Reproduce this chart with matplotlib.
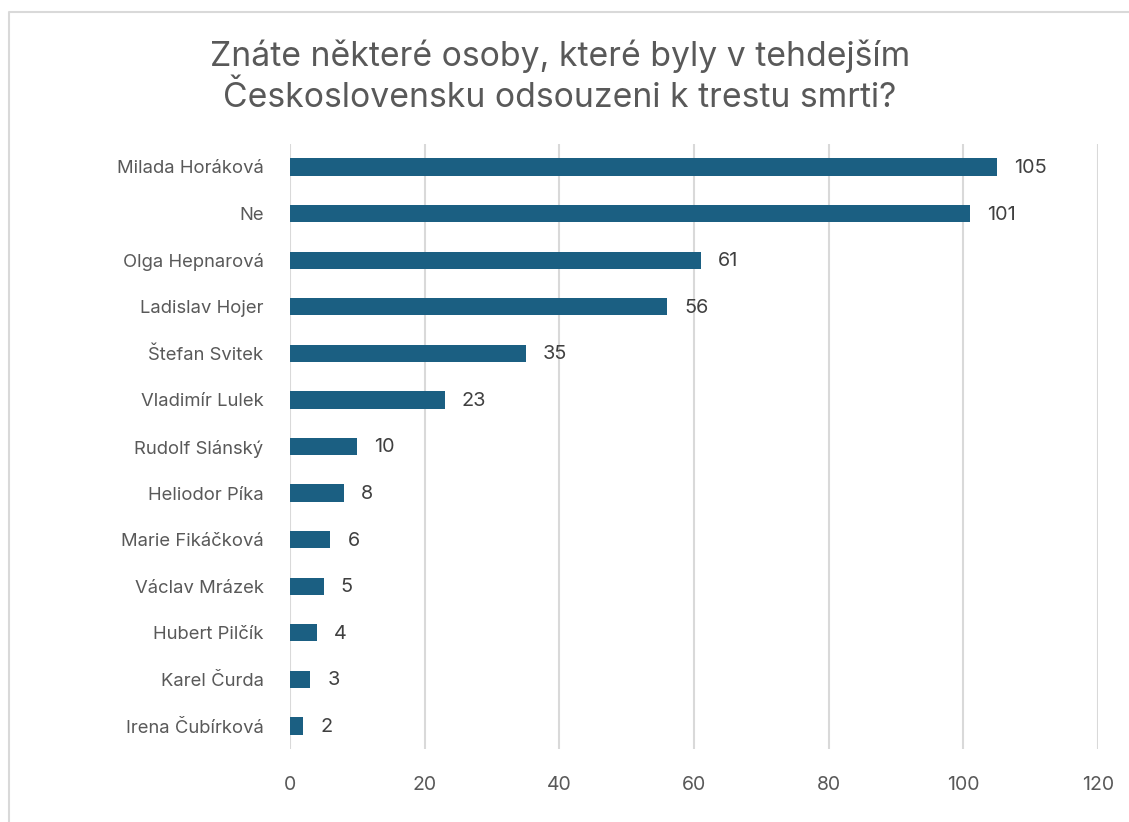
import matplotlib
matplotlib.use("Agg")
import matplotlib.pyplot as plt
from matplotlib.lines import Line2D

names = ["Milada Horáková", "Ne", "Olga Hepnarová", "Ladislav Hojer", "Štefan Svitek",
         "Vladimír Lulek", "Rudolf Slánský", "Heliodor Píka", "Marie Fikáčková",
         "Václav Mrázek", "Hubert Pilčík", "Karel Čurda", "Irena Čubírková"]
values = [105, 101, 61, 56, 35, 23, 10, 8, 6, 5, 4, 3, 2]
xticks = [0, 20, 40, 60, 80, 100, 120]
title = "Znáte některé osoby, které byly v tehdejším\nČeskoslovensku odsouzeni k trestu smrti?"

plt.rcParams['font.family'] = ['Inter', 'DejaVu Sans']

W, H = 1129, 822
fig = plt.figure(figsize=(W / 100, H / 100), dpi=100)
ax = fig.add_axes([290 / W, 1 - 749.3 / H, (1098 - 290) / W, (749.3 - 143.7) / H])

ypos = list(range(len(names)))
ax.barh(ypos, values, height=0.37, color='#1B5F82', zorder=3)
ax.set_ylim(len(names) - 0.5, -0.5)
ax.set_xlim(0, 120)
ax.set_xticks(xticks)
ax.set_xticklabels([str(t) for t in xticks])
ax.set_yticks(ypos)
ax.set_yticklabels(names)
ax.tick_params(axis='both', length=0, colors='#595959')
ax.tick_params(axis='y', pad=19, labelsize=13.3)
ax.tick_params(axis='x', pad=19, labelsize=14)
for s in ['top', 'right', 'bottom', 'left']:
    ax.spines[s].set_visible(False)
ax.grid(axis='x', color='#D9D9D9', linewidth=1.5, zorder=0)
ax.set_axisbelow(True)

for y, v in zip(ypos, values):
    ax.annotate(str(v), (v, y), xytext=(17, -1), textcoords='offset pixels',
                va='center', ha='left', fontsize=14.3, color='#404040')

fig.text(560 / W, 1 - 77 / H, title, ha='center', va='center', fontsize=24.3,
         color='#595959', linespacing=1.32)

# outer frame
fig.add_artist(Line2D([9 / W, 9 / W, 1.0], [0.0, 1 - 12 / H, 1 - 12 / H],
                      transform=fig.transFigure, color='#D9D9D9', linewidth=1.5))

fig.savefig("out.png", dpi=100, facecolor='white')
